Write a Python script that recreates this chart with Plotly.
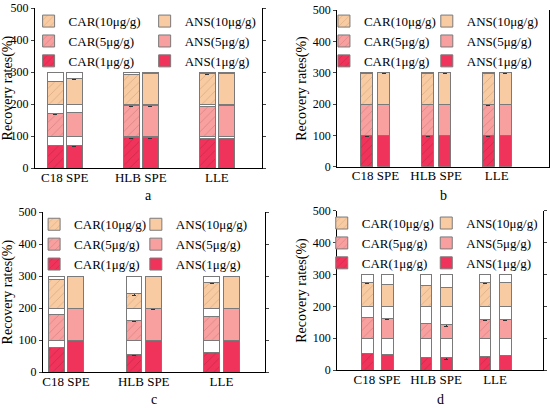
import plotly.graph_objects as go

methods = ["C18 SPE", "HLB SPE", "LLE"]
levels = ["1μg/g", "5μg/g", "10μg/g"]
panels = ["a", "b", "c", "d"]

# recovery rates (%) per panel, per level, per method
car = {
    "a": {"1μg/g": [72, 95, 92], "5μg/g": [71, 95, 93], "10μg/g": [72, 94, 95]},
    "b": {"1μg/g": [99, 99, 99], "5μg/g": [99, 99, 98], "10μg/g": [99, 99, 99]},
    "c": {"1μg/g": [77, 54, 61], "5μg/g": [80, 60, 75], "10μg/g": [89, 45, 79]},
    "d": {"1μg/g": [52, 39, 43], "5μg/g": [66, 46, 58], "10μg/g": [74, 66, 75]},
}
ans = {
    "a": {"1μg/g": [71, 95, 94], "5μg/g": [75, 95, 96], "10μg/g": [79, 96, 97]},
    "b": {"1μg/g": [100, 100, 100], "5μg/g": [100, 100, 100], "10μg/g": [100, 100, 100]},
    "c": {"1μg/g": [99, 99, 99], "5μg/g": [99, 98, 99], "10μg/g": [99, 99, 99]},
    "d": {"1μg/g": [50, 38, 47], "5μg/g": [62, 42, 59], "10μg/g": [69, 60, 76]},
}
car_err = {
    "a": {"1μg/g": [2, 1, 1], "5μg/g": [2, 1, 1], "10μg/g": [2, 1, 1]},
    "b": {"1μg/g": [1, 1, 1], "5μg/g": [1, 1, 1], "10μg/g": [1, 1, 1]},
    "c": {"1μg/g": [1, 1, 1], "5μg/g": [1, 1, 2], "10μg/g": [1, 5, 1]},
    "d": {"1μg/g": [1, 1, 1], "5μg/g": [1, 1, 2], "10μg/g": [1, 1, 2]},
}
ans_err = {
    "a": {"1μg/g": [2, 1, 1], "5μg/g": [2, 1, 1], "10μg/g": [1, 1, 1]},
    "b": {"1μg/g": [1, 1, 1], "5μg/g": [1, 1, 1], "10μg/g": [1, 1, 1]},
    "c": {"1μg/g": [1, 1, 1], "5μg/g": [1, 1, 1], "10μg/g": [1, 1, 1]},
    "d": {"1μg/g": [1, 4, 1], "5μg/g": [2, 6, 2], "10μg/g": [1, 1, 2]},
}

colors = {"1μg/g": "#f0335a", "5μg/g": "#f8a0a0", "10μg/g": "#f9cba3"}
hatch = {"1μg/g": "#b81e3e", "5μg/g": "#c86e6e", "10μg/g": "#c99a73"}

# layout per panel: x domain, y domain, x range, bar offset, bar width,
# legend x for the CAR / ANS columns, legend top
geo = {
    "a": dict(xd=[0.0636, 0.476], yd=[0.588, 0.980], xr=[0.61, 3.59], off=0.125, w=0.21,
              lx=[0.052, 0.263], ly=0.985),
    "b": dict(xd=[0.613, 0.998], yd=[0.591, 0.975], xr=[0.369, 3.86], off=0.14, w=0.2,
              lx=[0.589, 0.776], ly=0.985),
    "c": dict(xd=[0.078, 0.482], yd=[0.088, 0.480], xr=[0.704, 3.56], off=0.125, w=0.205,
              lx=[0.062, 0.247], ly=0.487),
    "d": dict(xd=[0.613, 0.987], yd=[0.093, 0.483], xr=[0.322, 3.81], off=0.17, w=0.2,
              lx=[0.585, 0.775], ly=0.490),
}
letter_y = {"a": 0.520, "b": 0.522, "c": 0.022, "d": 0.020}

font = "Liberation Serif"
fig = go.Figure()
layout = dict(width=550, height=408,
              margin=dict(l=0, r=0, t=0, b=0, autoexpand=False),
              paper_bgcolor="white", plot_bgcolor="white", barmode="stack",
              showlegend=True, font=dict(family=font, size=13, color="black"),
              annotations=[])

for i, p in enumerate(panels):
    g = geo[p]
    sfx = "" if i == 0 else str(i + 1)
    xa, ya = "x" + sfx, "y" + sfx
    for j, (name, data, err, sign) in enumerate(
            [("CAR", car, car_err, -1), ("ANS", ans, ans_err, 1)]):
        n = 2 * i + j + 1
        lg = "legend" if n == 1 else "legend" + str(n)
        xs = [k + 1 + sign * g["off"] for k in range(len(methods))]
        for lv in levels:
            vals = data[p][lv]
            fig.add_trace(go.Bar(
                x=xs, y=vals, width=g["w"], xaxis=xa, yaxis=ya, legend=lg,
                name=f"{name}({lv})",
                marker=dict(color=colors[lv], line=dict(color="#7a7a7a", width=1),
                            pattern=dict(shape="/" if name == "CAR" else "",
                                         fgcolor=hatch[lv], size=6, solidity=0.12,
                                         fgopacity=0.7)),
                error_y=dict(type="data", array=err[p][lv], color="#333333",
                             thickness=1, width=2),
                hoverinfo="skip"))
            fig.add_trace(go.Bar(
                x=xs, y=[max(0, 100 - v) for v in vals], width=g["w"],
                xaxis=xa, yaxis=ya, showlegend=False, legend=lg,
                marker=dict(color="white", line=dict(color="#7a7a7a", width=1)),
                hoverinfo="skip"))
        layout[lg] = dict(
            x=g["lx"][j], y=g["ly"], xanchor="left", yanchor="top",
            orientation="v", bgcolor="rgba(0,0,0,0)", traceorder="reversed",
            font=dict(family=font, size=13), itemwidth=30, tracegroupgap=0)
    layout["xaxis" + sfx] = dict(
        domain=g["xd"], anchor=ya, range=g["xr"], tickvals=[1, 2, 3], ticktext=methods,
        showline=True, linecolor="black", linewidth=1, ticks="", mirror=False,
        showgrid=False, zeroline=False, tickfont=dict(size=13), ticklabelstandoff=-3)
    layout["yaxis" + sfx] = dict(
        domain=g["yd"], anchor=xa, range=[0, 500], dtick=100, ticks="outside",
        ticklen=3, showline=True, linecolor="black", linewidth=1, mirror="ticks",
        showgrid=False, zeroline=False, tickfont=dict(size=12),
        title=dict(text="Recovery rates(%)", font=dict(size=14), standoff=2))
    layout["annotations"].append(dict(
        text=p, x=(g["xd"][0] + g["xd"][1]) / 2, y=letter_y[p], xref="paper",
        yref="paper", showarrow=False, font=dict(size=14), xanchor="center",
        yanchor="middle"))

fig.update_layout(**layout)
# page body margin would shift the fixed-size figure inside the window
fig.write_html("out.html", config={"displayModeBar": False},
               post_script="document.body.style.margin='0px';")
